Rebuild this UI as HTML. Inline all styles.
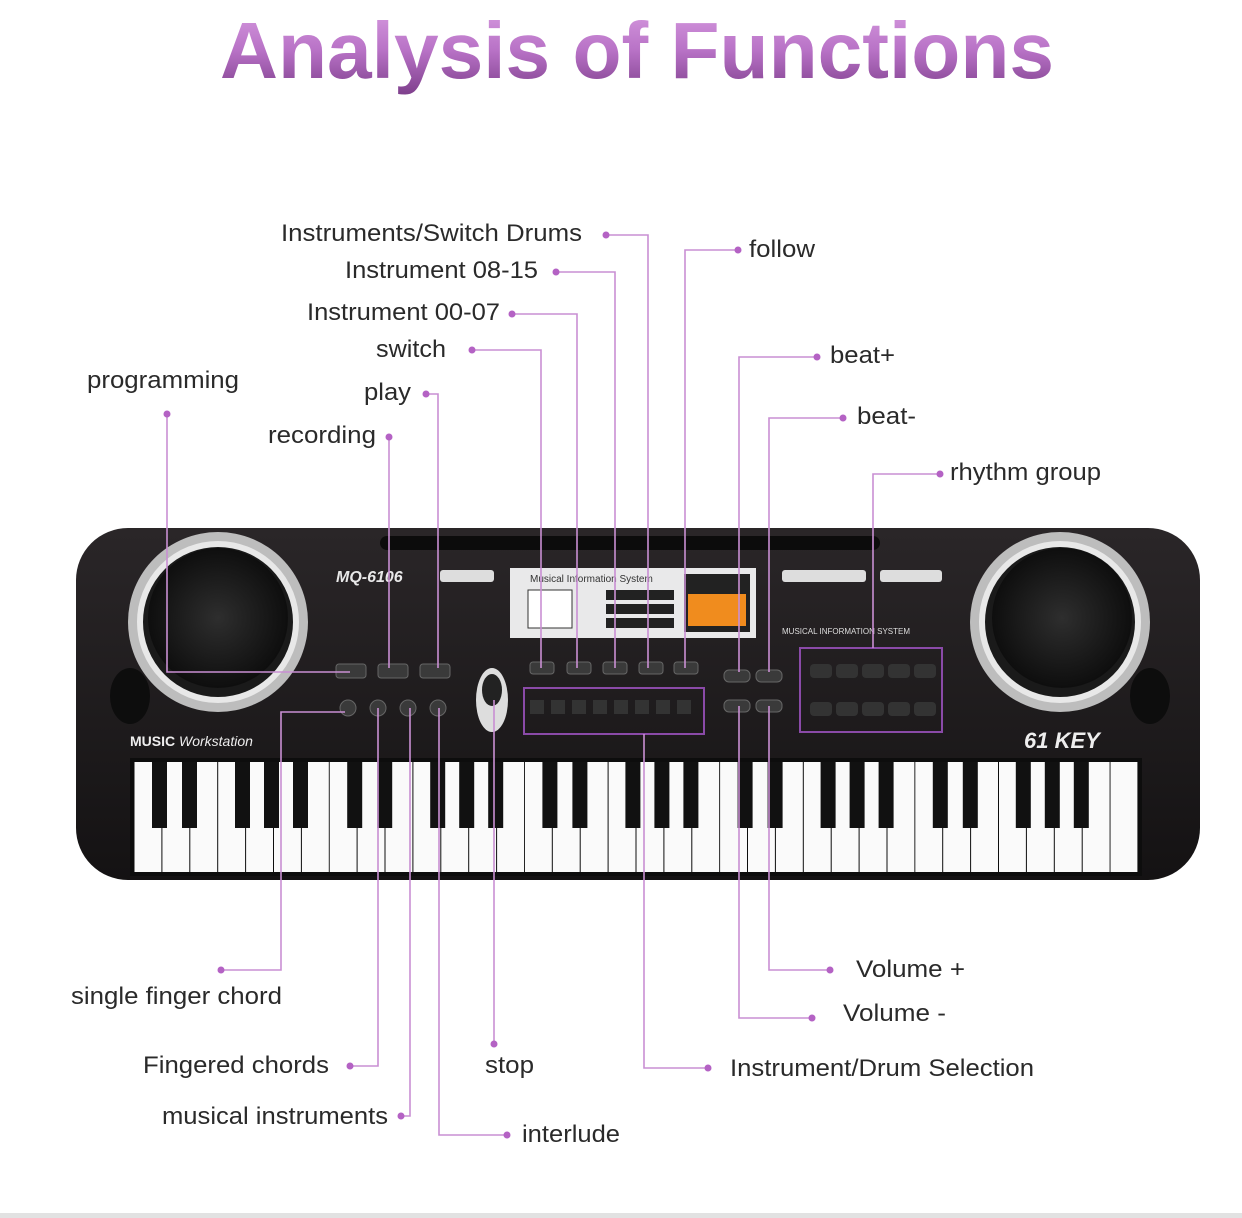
<!DOCTYPE html>
<html><head><meta charset="utf-8"><style>
html,body{margin:0;padding:0;background:#fff;}
svg{display:block;}
text{font-family:"Liberation Sans",sans-serif;}
</style></head><body>
<svg width="1242" height="1218" viewBox="0 0 1242 1218" xmlns="http://www.w3.org/2000/svg">
<defs>
<linearGradient id="tg" x1="0" y1="0" x2="0" y2="1">
<stop offset="0" stop-color="#d79be0"/><stop offset="0.5" stop-color="#b872c6"/><stop offset="1" stop-color="#7e3f8c"/>
</linearGradient>
<linearGradient id="body" x1="0" y1="0" x2="0" y2="1">
<stop offset="0" stop-color="#2a2628"/><stop offset="1" stop-color="#141213"/>
</linearGradient>
<radialGradient id="spk" cx="0.5" cy="0.5" r="0.5">
<stop offset="0" stop-color="#2e2e2e"/><stop offset="1" stop-color="#0e0e0e"/>
</radialGradient>
<g id="oct">
<rect x="0.5" y="0" width="26.9" height="110" fill="#fafafa"/>
<rect x="28.4" y="0" width="26.9" height="110" fill="#fafafa"/>
<rect x="56.3" y="0" width="26.9" height="110" fill="#fafafa"/>
<rect x="84.2" y="0" width="26.9" height="110" fill="#fafafa"/>
<rect x="112.1" y="0" width="26.9" height="110" fill="#fafafa"/>
<rect x="140" y="0" width="26.9" height="110" fill="#fafafa"/>
<rect x="167.9" y="0" width="26.9" height="110" fill="#fafafa"/>
<rect x="18" y="0" width="15" height="66" fill="#111"/>
<rect x="48" y="0" width="15" height="66" fill="#111"/>
<rect x="101" y="0" width="15" height="66" fill="#111"/>
<rect x="130" y="0" width="15" height="66" fill="#111"/>
<rect x="159" y="0" width="15" height="66" fill="#111"/>
</g>
</defs>

<rect width="1242" height="1218" fill="#fff"/>
<rect x="0" y="1213" width="1242" height="5" fill="#e2e2e2"/>

<text x="637" y="78" text-anchor="middle" font-size="80" font-weight="bold" fill="url(#tg)" textLength="834" lengthAdjust="spacingAndGlyphs">Analysis of Functions</text>

<!-- keyboard body -->
<rect x="76" y="528" width="1124" height="352" rx="52" fill="url(#body)"/>
<rect x="380" y="536" width="500" height="14" rx="7" fill="#0c0c0c"/>
<!-- speakers -->
<circle cx="218" cy="622" r="90" fill="#bdbdbd"/>
<circle cx="218" cy="622" r="78" fill="#1a1a1a" stroke="#e8e8e8" stroke-width="6"/>
<circle cx="218" cy="618" r="70" fill="url(#spk)"/>
<circle cx="1060" cy="622" r="90" fill="#bdbdbd"/>
<circle cx="1060" cy="622" r="78" fill="#1a1a1a" stroke="#e8e8e8" stroke-width="6"/>
<circle cx="1062" cy="618" r="70" fill="url(#spk)"/>
<ellipse cx="130" cy="696" rx="20" ry="28" fill="#0d0d0d"/>
<ellipse cx="1150" cy="696" rx="20" ry="28" fill="#0d0d0d"/>
<!-- labels on body -->
<text x="336" y="582" font-size="16" font-weight="bold" font-style="italic" fill="#e8e8e8">MQ-6106</text>
<rect x="440" y="570" width="54" height="12" rx="3" fill="#ddd"/>
<text x="130" y="746" font-size="14" font-weight="bold" fill="#eee">MUSIC <tspan font-style="italic" font-weight="normal">Workstation</tspan></text>
<text x="1024" y="748" font-size="22" font-weight="bold" font-style="italic" fill="#eee">61 KEY</text>
<!-- display -->
<rect x="510" y="568" width="246" height="70" fill="#e9e9ea"/>
<text x="530" y="582" font-size="10" fill="#333">Musical Information System</text>
<rect x="528" y="590" width="44" height="38" fill="#fff" stroke="#333"/>
<rect x="606" y="590" width="68" height="10" fill="#222"/>
<rect x="606" y="604" width="68" height="10" fill="#222"/>
<rect x="606" y="618" width="68" height="10" fill="#222"/>
<rect x="684" y="574" width="66" height="58" fill="#222"/>
<rect x="688" y="594" width="58" height="32" fill="#f08c1e"/>
<rect x="782" y="570" width="84" height="12" rx="3" fill="#ddd"/>
<rect x="880" y="570" width="62" height="12" rx="3" fill="#ddd"/>
<text x="782" y="634" font-size="8" fill="#ddd">MUSICAL INFORMATION SYSTEM</text>
<!-- buttons -->
<g fill="#3a3a3a" stroke="#666" stroke-width="1">
<rect x="336" y="664" width="30" height="14" rx="3"/>
<rect x="378" y="664" width="30" height="14" rx="3"/>
<rect x="420" y="664" width="30" height="14" rx="3"/>
<rect x="530" y="662" width="24" height="12" rx="3"/>
<rect x="567" y="662" width="24" height="12" rx="3"/>
<rect x="603" y="662" width="24" height="12" rx="3"/>
<rect x="639" y="662" width="24" height="12" rx="3"/>
<rect x="674" y="662" width="24" height="12" rx="3"/>
<rect x="724" y="670" width="26" height="12" rx="5"/>
<rect x="756" y="670" width="26" height="12" rx="5"/>
<rect x="724" y="700" width="26" height="12" rx="5"/>
<rect x="756" y="700" width="26" height="12" rx="5"/>
<circle cx="348" cy="708" r="8"/><circle cx="378" cy="708" r="8"/><circle cx="408" cy="708" r="8"/><circle cx="438" cy="708" r="8"/>
</g>
<ellipse cx="492" cy="700" rx="16" ry="32" fill="#ddd"/>
<ellipse cx="492" cy="690" rx="10" ry="16" fill="#222"/>
<rect x="524" y="688" width="180" height="46" fill="none" stroke="#8a4aa8" stroke-width="2"/>
<g fill="#333"><rect x="530" y="700" width="14" height="14"/><rect x="551" y="700" width="14" height="14"/><rect x="572" y="700" width="14" height="14"/><rect x="593" y="700" width="14" height="14"/><rect x="614" y="700" width="14" height="14"/><rect x="635" y="700" width="14" height="14"/><rect x="656" y="700" width="14" height="14"/><rect x="677" y="700" width="14" height="14"/></g>
<rect x="800" y="648" width="142" height="84" fill="none" stroke="#8a4aa8" stroke-width="2"/>
<g fill="#333"><rect x="810" y="664" width="22" height="14" rx="4"/><rect x="836" y="664" width="22" height="14" rx="4"/><rect x="862" y="664" width="22" height="14" rx="4"/><rect x="888" y="664" width="22" height="14" rx="4"/><rect x="914" y="664" width="22" height="14" rx="4"/>
<rect x="810" y="702" width="22" height="14" rx="4"/><rect x="836" y="702" width="22" height="14" rx="4"/><rect x="862" y="702" width="22" height="14" rx="4"/><rect x="888" y="702" width="22" height="14" rx="4"/><rect x="914" y="702" width="22" height="14" rx="4"/></g>
<!-- keys -->
<rect x="130" y="758" width="1012" height="118" fill="#0d0d0d"/>
<use href="#oct" x="134" y="762"/>
<use href="#oct" x="329.2" y="762"/>
<use href="#oct" x="524.4" y="762"/>
<use href="#oct" x="719.6" y="762"/>
<use href="#oct" x="914.8" y="762"/>
<rect x="1110.5" y="762" width="26.9" height="110" fill="#fafafa"/>

<!-- connectors -->
<g fill="none" stroke="#c98fd3" stroke-width="1.6">
<polyline points="606,235 648,235 648,668"/>
<polyline points="556,272 615,272 615,668"/>
<polyline points="512,314 577,314 577,668"/>
<polyline points="472,350 541,350 541,668"/>
<polyline points="426,394 438,394 438,668"/>
<polyline points="389,437 389,668"/>
<polyline points="167,414 167,672 350,672"/>
<polyline points="738,250 685,250 685,668"/>
<polyline points="817,357 739,357 739,672"/>
<polyline points="843,418 769,418 769,672"/>
<polyline points="940,474 873,474 873,648"/>
<polyline points="221,970 281,970 281,712 345,712"/>
<polyline points="350,1066 378,1066 378,708"/>
<polyline points="401,1116 410,1116 410,708"/>
<polyline points="507,1135 439,1135 439,708"/>
<polyline points="494,1044 494,700"/>
<polyline points="708,1068 644,1068 644,734"/>
<polyline points="812,1018 739,1018 739,706"/>
<polyline points="830,970 769,970 769,706"/>
</g>
<g fill="#b462c4">
<circle cx="606" cy="235" r="3.5"/><circle cx="556" cy="272" r="3.5"/><circle cx="512" cy="314" r="3.5"/><circle cx="472" cy="350" r="3.5"/><circle cx="426" cy="394" r="3.5"/><circle cx="389" cy="437" r="3.5"/><circle cx="167" cy="414" r="3.5"/><circle cx="738" cy="250" r="3.5"/><circle cx="817" cy="357" r="3.5"/><circle cx="843" cy="418" r="3.5"/><circle cx="940" cy="474" r="3.5"/>
<circle cx="221" cy="970" r="3.5"/><circle cx="350" cy="1066" r="3.5"/><circle cx="401" cy="1116" r="3.5"/><circle cx="507" cy="1135" r="3.5"/><circle cx="494" cy="1044" r="3.5"/><circle cx="708" cy="1068" r="3.5"/><circle cx="812" cy="1018" r="3.5"/><circle cx="830" cy="970" r="3.5"/>
</g>

<g font-size="24" fill="#2a2a2a" lengthAdjust="spacingAndGlyphs">
<text x="281" y="241" textLength="301" lengthAdjust="spacingAndGlyphs">Instruments/Switch Drums</text>
<text x="345" y="278" textLength="193" lengthAdjust="spacingAndGlyphs">Instrument 08-15</text>
<text x="307" y="320" textLength="193" lengthAdjust="spacingAndGlyphs">Instrument 00-07</text>
<text x="376" y="357" textLength="70" lengthAdjust="spacingAndGlyphs">switch</text>
<text x="364" y="400" textLength="47" lengthAdjust="spacingAndGlyphs">play</text>
<text x="268" y="443" textLength="108" lengthAdjust="spacingAndGlyphs">recording</text>
<text x="87" y="388" textLength="152" lengthAdjust="spacingAndGlyphs">programming</text>
<text x="749" y="257" textLength="66" lengthAdjust="spacingAndGlyphs">follow</text>
<text x="830" y="363" textLength="65" lengthAdjust="spacingAndGlyphs">beat+</text>
<text x="857" y="424" textLength="59" lengthAdjust="spacingAndGlyphs">beat-</text>
<text x="950" y="480" textLength="151" lengthAdjust="spacingAndGlyphs">rhythm group</text>
<text x="71" y="1004" textLength="211" lengthAdjust="spacingAndGlyphs">single finger chord</text>
<text x="143" y="1073" textLength="186" lengthAdjust="spacingAndGlyphs">Fingered chords</text>
<text x="162" y="1124" textLength="226" lengthAdjust="spacingAndGlyphs">musical instruments</text>
<text x="485" y="1073" textLength="49" lengthAdjust="spacingAndGlyphs">stop</text>
<text x="522" y="1142" textLength="98" lengthAdjust="spacingAndGlyphs">interlude</text>
<text x="730" y="1076" textLength="304" lengthAdjust="spacingAndGlyphs">Instrument/Drum Selection</text>
<text x="856" y="977" textLength="109" lengthAdjust="spacingAndGlyphs">Volume +</text>
<text x="843" y="1021" textLength="103" lengthAdjust="spacingAndGlyphs">Volume -</text>
</g>
</svg>
</body></html>
